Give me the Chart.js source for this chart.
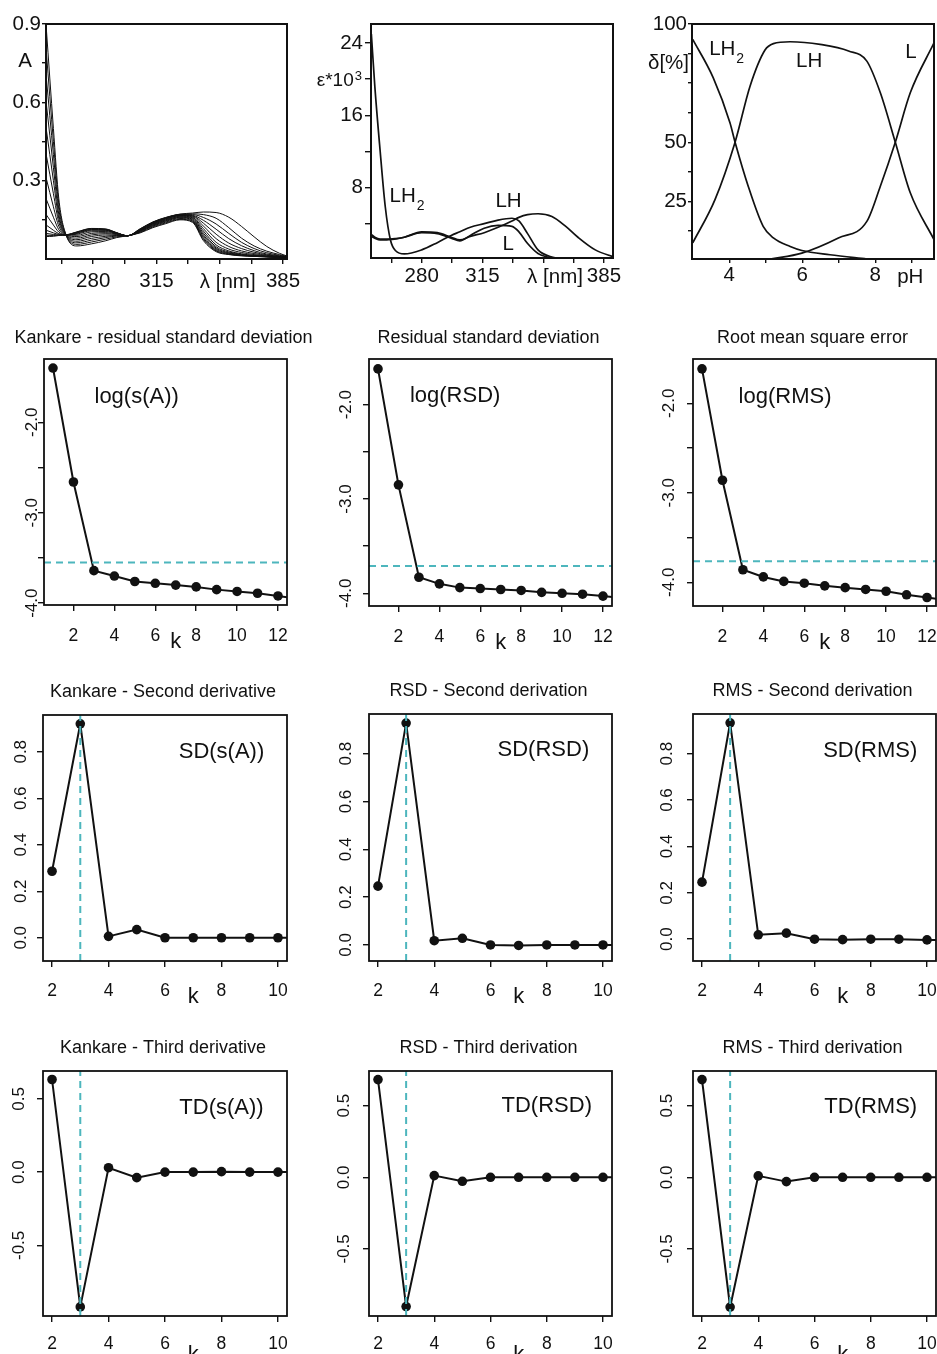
<!DOCTYPE html>
<html>
<head>
<meta charset="utf-8">
<title>Titration spectra and factor number estimates</title>
<script src="https://cdn.jsdelivr.net/npm/chart.js@4.4.1/dist/chart.umd.min.js"></script>
<style>
  html, body { margin: 0; padding: 0; background: #fff; overflow: hidden; }
  body { position: relative; width: 937px; height: 1354px; }
  canvas { position: absolute; }
</style>
</head>
<body>
<script>
// ---- top left: measured spectra (absorbance) ----
const specWl = [254, 258, 261, 265, 271, 279, 287, 293, 299, 306, 313, 320, 328, 335, 341, 348, 355, 362, 369, 376, 383, 387];
const specAbs = [
  [0.89, 0.50, 0.23, 0.092, 0.050, 0.058, 0.070, 0.082, 0.089, 0.100, 0.120, 0.135, 0.150, 0.140, 0.070, 0.028, 0.017, 0.012, 0.010, 0.008, 0.006, 0.004],
  [0.80, 0.45, 0.21, 0.092, 0.056, 0.065, 0.076, 0.085, 0.089, 0.102, 0.123, 0.138, 0.152, 0.143, 0.075, 0.031, 0.018, 0.013, 0.010, 0.008, 0.006, 0.004],
  [0.70, 0.40, 0.19, 0.092, 0.062, 0.072, 0.082, 0.088, 0.089, 0.104, 0.126, 0.141, 0.155, 0.146, 0.080, 0.034, 0.020, 0.014, 0.011, 0.009, 0.006, 0.004],
  [0.60, 0.35, 0.17, 0.092, 0.068, 0.079, 0.087, 0.090, 0.089, 0.106, 0.128, 0.144, 0.158, 0.149, 0.086, 0.038, 0.022, 0.015, 0.012, 0.009, 0.006, 0.005],
  [0.50, 0.30, 0.155, 0.092, 0.074, 0.086, 0.092, 0.092, 0.089, 0.107, 0.130, 0.146, 0.160, 0.152, 0.092, 0.042, 0.024, 0.016, 0.012, 0.009, 0.007, 0.005],
  [0.40, 0.25, 0.14, 0.092, 0.080, 0.092, 0.097, 0.094, 0.089, 0.108, 0.132, 0.148, 0.162, 0.155, 0.099, 0.047, 0.027, 0.018, 0.013, 0.010, 0.007, 0.005],
  [0.31, 0.20, 0.125, 0.092, 0.086, 0.098, 0.101, 0.096, 0.089, 0.109, 0.134, 0.150, 0.164, 0.158, 0.107, 0.054, 0.031, 0.020, 0.014, 0.010, 0.007, 0.005],
  [0.23, 0.16, 0.112, 0.092, 0.091, 0.104, 0.105, 0.097, 0.089, 0.110, 0.135, 0.152, 0.166, 0.160, 0.116, 0.064, 0.038, 0.025, 0.017, 0.012, 0.008, 0.006],
  [0.17, 0.13, 0.103, 0.092, 0.095, 0.108, 0.108, 0.098, 0.089, 0.111, 0.137, 0.154, 0.167, 0.163, 0.126, 0.078, 0.048, 0.031, 0.021, 0.014, 0.009, 0.006],
  [0.13, 0.11, 0.097, 0.092, 0.098, 0.111, 0.110, 0.099, 0.089, 0.112, 0.138, 0.155, 0.168, 0.165, 0.137, 0.095, 0.061, 0.040, 0.026, 0.016, 0.010, 0.007],
  [0.11, 0.10, 0.094, 0.092, 0.100, 0.113, 0.112, 0.099, 0.089, 0.113, 0.139, 0.156, 0.169, 0.167, 0.148, 0.114, 0.078, 0.051, 0.032, 0.019, 0.012, 0.008],
  [0.098, 0.094, 0.092, 0.092, 0.102, 0.115, 0.113, 0.100, 0.089, 0.114, 0.140, 0.157, 0.170, 0.170, 0.159, 0.134, 0.098, 0.064, 0.040, 0.024, 0.014, 0.009],
  [0.091, 0.090, 0.091, 0.092, 0.103, 0.116, 0.114, 0.100, 0.089, 0.115, 0.141, 0.158, 0.171, 0.173, 0.170, 0.156, 0.120, 0.080, 0.050, 0.030, 0.017, 0.010],
  [0.086, 0.087, 0.090, 0.092, 0.104, 0.117, 0.115, 0.101, 0.089, 0.116, 0.142, 0.159, 0.172, 0.176, 0.180, 0.178, 0.160, 0.125, 0.085, 0.048, 0.022, 0.012]
];

// ---- top middle: pure component spectra, eps * 10^3 ----
const epsWl  = [251, 253, 256, 259, 262, 265, 270, 280, 289, 297, 302, 308, 316, 324, 332, 336, 341, 347, 355, 363, 370, 380, 391];
const epsLH2 = [25.0, 19.2, 12.2, 5.9, 2.2, 1.0, 0.65, 1.1, 1.9, 2.7, 3.1, 3.6, 4.0, 4.4, 4.6, 4.3, 2.9, 1.1, 0.3, 0.1, 0.05, 0.02, 0.0];
const epsL   = [2.8, 2.5, 2.3, 2.3, 2.3, 2.35, 2.5, 3.0, 2.9, 2.4, 2.1, 2.7, 3.5, 3.8, 3.7, 3.1, 1.8, 0.7, 0.2, 0.05, 0.02, 0.0, 0.0];
const epsLH  = [2.6, 2.4, 2.2, 2.2, 2.25, 2.3, 2.5, 3.1, 3.0, 2.5, 2.2, 2.6, 3.0, 3.6, 4.3, 4.7, 5.0, 5.1, 4.8, 3.7, 2.5, 1.1, 0.3];

// ---- top right: distribution diagram, delta [%] vs pH ----
const phLH2  = [3.0, 3.56, 4.02, 4.16, 4.52, 4.93, 5.21, 5.67, 5.99, 6.76, 7.77];
const pctLH2 = [93.5, 77.3, 58.2, 50, 31.4, 14.4, 9.5, 5.9, 4.2, 2.4, 0.6];
const phLH   = [3.0, 3.61, 4.16, 4.57, 4.98, 5.21, 5.67, 6.49, 7.27, 7.77, 8.14, 8.55, 8.96, 9.61];
const pctLH  = [7.4, 25.7, 50, 73.7, 89, 91.7, 92.5, 91.4, 88.6, 84.3, 70.9, 50, 28.6, 8.8];
const phL    = [5.12, 5.99, 6.99, 7.77, 8.14, 8.55, 8.96, 9.61];
const pctL   = [0.6, 3.1, 9.5, 16.5, 31.4, 50, 70.9, 92];

// ---- row 2: log of the error functions vs number of factors k ----
const kLog   = [1, 2, 3, 4, 5, 6, 7, 8, 9, 10, 11, 12, 13];
const logSA  = [-1.40, -2.66, -3.64, -3.70, -3.76, -3.78, -3.80, -3.82, -3.85, -3.87, -3.89, -3.92, -3.95];
const logRSD = [-1.62, -2.85, -3.83, -3.90, -3.94, -3.95, -3.96, -3.97, -3.99, -4.00, -4.01, -4.03, -4.05];
const logRMS = [-1.615, -2.86, -3.86, -3.94, -3.99, -4.01, -4.04, -4.06, -4.08, -4.10, -4.14, -4.17, -4.20];
const cutSA = -3.55, cutRSD = -3.71, cutRMS = -3.765;

// ---- rows 3 and 4: second and third derivatives ----
const kDer  = [2, 3, 4, 5, 6, 7, 8, 9, 10, 11];
const sdSA  = [0.286, 0.920, 0.006, 0.035, 0, 0, 0, 0, 0, 0];
const sdRSD = [0.246, 0.928, 0.018, 0.028, 0, -0.002, 0, 0, 0, 0];
const sdRMS = [0.246, 0.933, 0.019, 0.026, 0, -0.002, 0, 0, -0.003, -0.003];
const tdSA  = [0.632, -0.920, 0.030, -0.038, 0, 0, 0.003, 0, 0, 0];
const tdRSD = [0.682, -0.902, 0.012, -0.028, 0, 0, 0, 0, 0, 0];
const tdRMS = [0.682, -0.906, 0.010, -0.030, 0, 0, 0, 0, 0, 0];
const kPick = 3;

// ---- tick positions and which of them carry a label ----
const wlTicks = [262.5, 280, 297.5, 315, 332.5, 350, 367.5, 385];
const wlShown = [280, 315, 385];
const absTicks = [0.15, 0.3, 0.45, 0.6, 0.75, 0.9];
const absShown = [0.3, 0.6, 0.9];
const epsTicks = [4, 8, 12, 16, 20, 24];
const epsShown = [8, 16, 24];
const pctTicks = [12.5, 25, 37.5, 50, 62.5, 75, 87.5, 100];
const pctShown = [25, 50, 100];
const phTicks = [4, 5, 6, 7, 8, 9];
const phShown = [4, 6, 8];
const logTicks = [-4, -3.5, -3, -2.5, -2];
const kLogTicks = [2, 4, 6, 8, 10, 12];
const sdTicks = [0, 0.2, 0.4, 0.6, 0.8];
const tdTicks = [-0.5, 0, 0.5];
const kDerTicks = [2, 4, 6, 8, 10];

const FONT = '"Liberation Sans", Arial, Helvetica, sans-serif';
const INK = '#111';
const DASH = '#4db6bd';
const PAD = { left: 70, top: 44, right: 34, bottom: 64 };
const kSpan = [0.56, 12.44];
const dSpan = [1.68, 10.32];

const pts = (xs, ys) => xs.map((x, i) => ({ x, y: ys[i] }));
const only = (shown, dp) => v =>
  shown.some(s => Math.abs(s - v) < 1e-6) ? (dp == null ? String(v) : v.toFixed(dp)) : '';

function line(data, o) {
  return {
    data,
    borderColor: o.color || INK,
    borderWidth: o.lw,
    borderDash: o.dash || [],
    pointRadius: o.r || 0,
    pointHoverRadius: 0,
    pointBackgroundColor: INK,
    pointBorderWidth: 0,
    tension: 0,
    cubicInterpolationMode: o.smooth ? 'monotone' : 'default',
    fill: false
  };
}

function scale(min, max, ticks, fmt, o) {
  return {
    type: 'linear', min, max,
    afterBuildTicks: s => { s.ticks = ticks.map(value => ({ value })); },
    afterFit: s => { if (s.isHorizontal()) s.height = PAD.bottom; else s.width = PAD.left; },
    grid: { drawOnChartArea: false, drawTicks: true, tickLength: o.len, color: INK, lineWidth: o.lw || 1.4 },
    border: { display: false },
    ticks: {
      display: o.show !== false, autoSkip: false, maxRotation: 0, minRotation: 0,
      padding: o.pad || 0, color: INK,
      font: { family: FONT, size: o.size || 17.5 },
      callback: v => fmt(v)
    }
  };
}

// box, titles, rotated y labels and text notes
function decor(o) {
  return {
    id: 'decor',
    afterDraw(chart) {
      const { ctx, chartArea: a } = chart;
      const xs = chart.scales.x, ys = chart.scales.y;
      ctx.save();
      ctx.strokeStyle = INK;
      ctx.lineWidth = o.box;
      ctx.strokeRect(a.left, a.top, a.right - a.left, a.bottom - a.top);
      ctx.fillStyle = INK;
      if (o.title) {
        ctx.font = `18px ${FONT}`;
        ctx.textAlign = 'center';
        ctx.textBaseline = 'alphabetic';
        ctx.fillText(o.title, (a.left + a.right) / 2 - 2, a.top - o.titleGap);
      }
      if (o.yRot) {
        ctx.font = `17px ${FONT}`;
        ctx.textAlign = 'center';
        ctx.textBaseline = 'alphabetic';
        ys.ticks.forEach(t => {
          const s = o.yRot.fmt(t.value);
          if (!s) return;
          ctx.save();
          ctx.translate(a.left - o.yRot.gap, ys.getPixelForValue(t.value));
          ctx.rotate(-Math.PI / 2);
          ctx.fillText(s, 0, 0);
          ctx.restore();
        });
      }
      (o.notes || []).forEach(n => {
        const x = n.x !== undefined ? xs.getPixelForValue(n.x) : a.left + n.dx;
        const y = n.y !== undefined ? ys.getPixelForValue(n.y) : a.bottom + n.dy;
        ctx.font = `${n.size}px ${FONT}`;
        ctx.textAlign = n.align || 'center';
        ctx.textBaseline = n.base || 'middle';
        ctx.fillText(n.text, x, y);
        if (n.sub || n.sup) {
          const w = ctx.measureText(n.text).width;
          ctx.font = `${Math.round(n.size * 0.68)}px ${FONT}`;
          ctx.textAlign = 'left';
          const x2 = (n.align === 'left' ? x + w : x + w / 2) + 1;
          ctx.fillText(n.sub || n.sup, x2, y + (n.sub ? n.size * 0.48 : -n.size * 0.25));
        }
      });
      ctx.restore();
    }
  };
}

function panel(box, cfg) {
  const [l, t, r, b] = box;
  const w = r - l + PAD.left + PAD.right, h = b - t + PAD.top + PAD.bottom;
  const cv = document.createElement('canvas');
  cv.width = w; cv.height = h;
  cv.style.left = (l - PAD.left) + 'px';
  cv.style.top = (t - PAD.top) + 'px';
  cv.style.width = w + 'px';
  cv.style.height = h + 'px';
  document.body.appendChild(cv);
  new Chart(cv, {
    type: 'line',
    data: { datasets: cfg.datasets },
    options: {
      responsive: false,
      animation: false,
      events: [],
      layout: { padding: { left: 0, top: PAD.top, right: PAD.right, bottom: 0 } },
      plugins: { legend: { display: false }, tooltip: { enabled: false } },
      scales: { x: cfg.x, y: cfg.y }
    },
    plugins: [decor(cfg.decor)]
  });
}

// ---------- top row ----------
panel([46, 24, 287, 259], {
  datasets: specAbs.map(c => line(pts(specWl, c), { lw: 1.0, smooth: true })),
  x: scale(253.9, 387.2, wlTicks, only(wlShown), { len: 5, pad: 5, size: 20.5 }),
  y: scale(0, 0.9, absTicks, only(absShown, 1), { len: 4, pad: 1, size: 20.5 }),
  decor: { box: 2, notes: [
    { text: 'A', dx: -27.7, y: 0.757, size: 20.5, align: 'left' },
    { text: 'λ [nm]', x: 354.4, dy: 29, size: 20.5, base: 'alphabetic' }
  ] }
});

panel([371, 24, 613, 258], {
  datasets: [
    line(pts(epsWl, epsLH2), { lw: 1.7, smooth: true }),
    line(pts(epsWl, epsL), { lw: 1.7, smooth: true }),
    line(pts(epsWl, epsLH), { lw: 1.7, smooth: true })
  ],
  x: scale(250.8, 390.2, wlTicks, only(wlShown), { len: 5, pad: 1, size: 20.5 }),
  y: scale(0.2, 26.1, epsTicks, only(epsShown), { len: 6, pad: 2, size: 20.5 }),
  decor: { box: 2, notes: [
    { text: 'ε*10', sup: '3', dx: -54.3, y: 19.8, size: 19, align: 'left' },
    { text: 'λ [nm]', x: 356.8, dy: 25, size: 20.5, base: 'alphabetic' },
    { text: 'LH', sub: '2', x: 261.5, y: 7.0, size: 20.5, align: 'left' },
    { text: 'LH', x: 330, y: 6.45, size: 20.5 },
    { text: 'L', x: 329.8, y: 1.66, size: 20.5 }
  ] }
});

panel([692, 24, 934, 259], {
  datasets: [
    line(pts(phLH2, pctLH2), { lw: 1.7, smooth: true }),
    line(pts(phLH, pctLH), { lw: 1.7, smooth: true }),
    line(pts(phL, pctL), { lw: 1.7, smooth: true })
  ],
  x: scale(2.98, 9.61, phTicks, only(phShown), { len: 4, pad: 0, size: 20.5 }),
  y: scale(0.6, 100, pctTicks, only(pctShown), { len: 4, pad: 1, size: 20.5 }),
  decor: { box: 2, notes: [
    { text: 'δ[%]', dx: -44, y: 83.3, size: 20.5, align: 'left' },
    { text: 'LH', sub: '2', x: 3.45, y: 89.3, size: 20.5, align: 'left' },
    { text: 'LH', x: 6.19, y: 84.3, size: 20.5 },
    { text: 'L', x: 8.98, y: 87.9, size: 20.5 },
    { text: 'pH', x: 8.96, dy: 24, size: 20.5, base: 'alphabetic' }
  ] }
});

// ---------- row 2 ----------
function logPanel(box, title, vals, cut, yMin, yMax, gap, name, nx, ny) {
  panel(box, {
    datasets: [
      line([{ x: kSpan[0], y: cut }, { x: kSpan[1], y: cut }], { color: DASH, lw: 2, dash: [7, 5] }),
      line(pts(kLog, vals), { lw: 2, r: 4.8 })
    ],
    x: scale(kSpan[0], kSpan[1], kLogTicks, String, { len: 6, pad: 15 }),
    y: scale(yMin, yMax, logTicks, String, { len: 6, show: false }),
    decor: {
      box: 1.8, title, titleGap: 16,
      yRot: { gap, fmt: v => Number.isInteger(v) ? v.toFixed(1) : '' },
      notes: [
        { text: name, x: nx, y: ny, size: 22 },
        { text: 'k', x: 7, dy: 43, size: 22, base: 'alphabetic' }
      ]
    }
  });
}

logPanel([44, 359, 287, 605], 'Kankare - residual standard deviation', logSA, cutSA, -4.02, -1.30, 7, 'log(s(A))', 5.09, -1.72);
logPanel([369, 359, 612, 606], 'Residual standard deviation', logRSD, cutRSD, -4.135, -1.515, 18, 'log(RSD)', 4.77, -1.91);
logPanel([693, 359, 936, 606], 'Root mean square error', logRMS, cutRMS, -4.265, -1.505, 19.5, 'log(RMS)', 5.06, -1.93);

// ---------- rows 3 and 4 ----------
function derPanel(box, title, vals, yMin, yMax, yTicks, gap, name, nx, ny, xPad, kDy) {
  panel(box, {
    datasets: [
      line([{ x: kPick, y: yMin }, { x: kPick, y: yMax }], { color: DASH, lw: 2, dash: [7, 5] }),
      line(pts(kDer, vals), { lw: 2, r: 4.8 })
    ],
    x: scale(dSpan[0], dSpan[1], kDerTicks, String, { len: 6, pad: xPad }),
    y: scale(yMin, yMax, yTicks, String, { len: 6, show: false }),
    decor: {
      box: 1.8, title, titleGap: 18.5,
      yRot: { gap, fmt: v => v.toFixed(1) },
      notes: [
        { text: name, x: nx, y: ny, size: 22 },
        { text: 'k', x: 7, dy: kDy, size: 22, base: 'alphabetic' }
      ]
    }
  });
}

derPanel([43, 715, 287, 961], 'Kankare - Second derivative', sdSA, -0.10, 0.958, sdTicks, 17, 'SD(s(A))', 8.0, 0.80, 14, 42);
derPanel([369, 714, 612, 961], 'RSD - Second derivation', sdRSD, -0.067, 0.966, sdTicks, 18.5, 'SD(RSD)', 7.88, 0.817, 14, 42);
derPanel([693, 714, 936, 961], 'RMS - Second derivation', sdRMS, -0.094, 0.971, sdTicks, 21, 'SD(RMS)', 7.98, 0.81, 14, 42);

derPanel([43, 1071, 287, 1316], 'Kankare - Third derivative', tdSA, -0.982, 0.69, tdTicks, 19, 'TD(s(A))', 8.0, 0.44, 12, 45);
derPanel([369, 1071, 612, 1316], 'RSD - Third derivation', tdRSD, -0.968, 0.742, tdTicks, 20, 'TD(RSD)', 8.0, 0.50, 12, 45);
derPanel([693, 1071, 936, 1316], 'RMS - Third derivation', tdRMS, -0.968, 0.742, tdTicks, 21, 'TD(RMS)', 8.0, 0.49, 12, 45);
</script>
</body>
</html>
